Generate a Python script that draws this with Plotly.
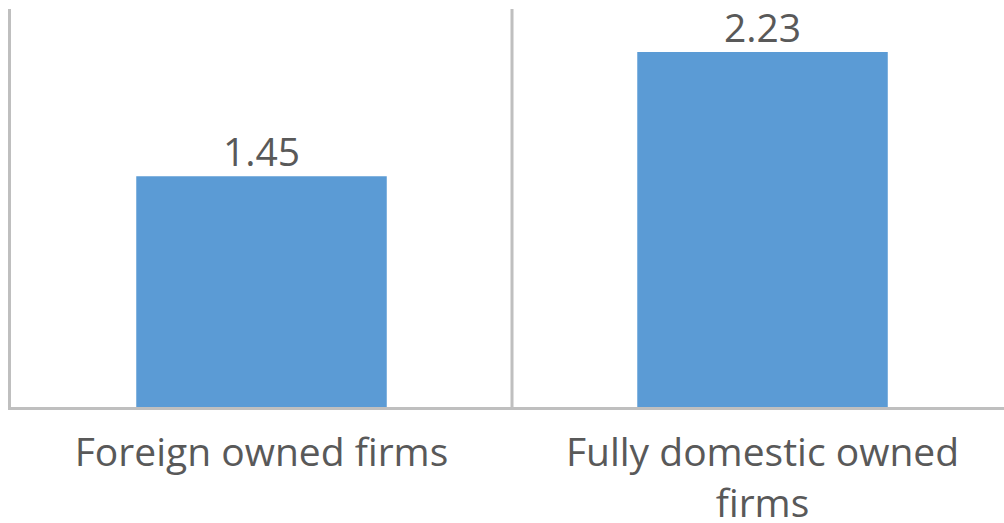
import plotly.graph_objects as go

categories = ["Foreign owned firms", "Fully domestic owned<br>firms"]
values = [1.45, 2.23]
value_labels = ["1.45", "2.23"]

BAR_COLOR = "#5B9BD5"
AXIS_COLOR = "#BFBFBF"
TEXT_COLOR = "#595959"
FONT = "Open Sans, Segoe UI, sans-serif"

fig = go.Figure()
fig.add_trace(go.Bar(
    x=[0, 1],
    y=values,
    width=0.5,
    marker=dict(color=BAR_COLOR, line=dict(width=0)),
    hoverinfo="skip",
))

# value labels above each bar
for i, (v, lab) in enumerate(zip(values, value_labels)):
    fig.add_annotation(
        x=i, y=v, text=lab, showarrow=False,
        xref="x", yref="y", yanchor="bottom", yshift=-2,
        borderpad=0,
        font=dict(family=FONT, size=39, color=TEXT_COLOR),
    )

# divider between the two categories
fig.add_shape(
    type="line", xref="x", yref="paper",
    x0=0.5, x1=0.5, y0=0, y1=1,
    line=dict(color=AXIS_COLOR, width=3),
    layer="below",
)

fig.update_layout(
    width=1004, height=523,
    margin=dict(l=11, r=0, t=9, b=116),
    paper_bgcolor="white", plot_bgcolor="white",
    showlegend=False,
    font=dict(family=FONT, color=TEXT_COLOR),
    xaxis=dict(
        range=[-0.5, 1.482],
        tickmode="array", tickvals=[0, 1], ticktext=categories,
        showgrid=False, zeroline=False,
        showline=True, linecolor=AXIS_COLOR, linewidth=3,
        ticks="", ticklabelstandoff=9, automargin=False,
        tickfont=dict(family=FONT, size=39, color=TEXT_COLOR),
        fixedrange=True,
    ),
    yaxis=dict(
        range=[0, 2.5],
        showgrid=False, zeroline=False, showticklabels=False,
        showline=True, linecolor=AXIS_COLOR, linewidth=3,
        ticks="", fixedrange=True, automargin=False,
    ),
)

fig.write_html("out.html")
